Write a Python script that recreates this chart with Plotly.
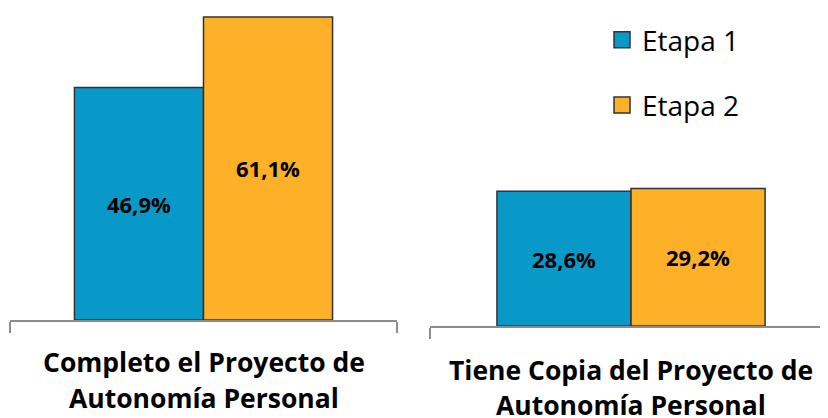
import plotly.graph_objects as go

cat_left_lines = ["Completo el Proyecto de", "Autonomía Personal"]
cat_right_lines = ["Tiene Copia del Proyecto de", "Autonomía Personal"]
series_names = ["Etapa 1", "Etapa 2"]
left_values = [46.9, 61.1]
right_values = [28.6, 29.2]
colors = ["#0899C8", "#FDB128"]

FONT = "Open Sans"

def fmt(v):
    return f"{v:.1f}".replace(".", ",") + "%"

fig = go.Figure()
for i, name in enumerate(series_names):
    fig.add_trace(go.Bar(
        x=["L"], y=[left_values[i]], name=name, legendgroup=name,
        marker=dict(color=colors[i], line=dict(color="#333333", width=1.5)),
        text=[fmt(left_values[i])], textposition="inside", insidetextanchor="middle",
        textfont=dict(family=FONT, size=22, color="black", weight="bold"),
        xaxis="x", yaxis="y", showlegend=False))
for i, name in enumerate(series_names):
    fig.add_trace(go.Bar(
        x=["R"], y=[right_values[i]], name=name, legendgroup=name,
        marker=dict(color=colors[i], line=dict(color="#333333", width=1.5)),
        text=[fmt(right_values[i])], textposition="inside", insidetextanchor="middle",
        textfont=dict(family=FONT, size=22, color="black", weight="bold"),
        xaxis="x2", yaxis="y2", showlegend=False))
# legend entries
for i, name in enumerate(series_names):
    fig.add_trace(go.Scatter(
        x=[None], y=[None], mode="markers", name=name, legendgroup=name,
        marker=dict(symbol="square", size=19, color=colors[i], line=dict(color="#333333", width=1.5)),
        xaxis="x", yaxis="y", showlegend=True))

# page has 8px body margin; work in figure coordinates = page - 8
W, H = 820, 410
OFF = 8
def px(x):
    return (x - OFF) / W
def py(y):
    return 1 - (y - OFF) / H

axis_common = dict(showgrid=False, zeroline=False, showline=True, linecolor="#8c8c8c",
                   linewidth=1.5, ticks="outside", tickson="boundaries", ticklen=11,
                   tickcolor="#8c8c8c", tickwidth=1.5, showticklabels=False, fixedrange=True)
left_base, right_base = 320, 326
fig.update_layout(
    width=W, height=H, margin=dict(l=0, r=0, t=0, b=0),
    paper_bgcolor="white", plot_bgcolor="white",
    barmode="group", bargap=0.333, bargroupgap=0,
    xaxis=dict(domain=[px(10), px(397)], anchor="y", range=[-0.5, 0.5], **axis_common),
    xaxis2=dict(domain=[px(430), 1.0], anchor="y2", range=[-0.5, 0.49], **axis_common),
    yaxis=dict(domain=[py(left_base), 1], range=[0, (left_base - OFF) / 4.96], visible=False),
    yaxis2=dict(domain=[py(right_base), 1], range=[0, (right_base - OFF) / 4.71], visible=False),
    legend=dict(x=px(602), y=py(15), xanchor="left", yanchor="top",
                font=dict(family=FONT, size=28, color="black"),
                traceorder="grouped", tracegroupgap=26, bgcolor="rgba(0,0,0,0)"),
    font=dict(family=FONT),
    showlegend=True,
)

for line, yc in zip(cat_left_lines, [362, 398]):
    fig.add_annotation(x="L", xref="x", y=py(yc), yref="paper", yanchor="middle",
                       text="<b>" + line + "</b>", showarrow=False,
                       font=dict(family=FONT, size=26.5, color="black"))
for line, yc in zip(cat_right_lines, [370, 405]):
    fig.add_annotation(x="R", xref="x2", y=py(yc), yref="paper", yanchor="middle",
                       text="<b>" + line + "</b>", showarrow=False,
                       font=dict(family=FONT, size=26.5, color="black"))

fig.write_html("out.html")
